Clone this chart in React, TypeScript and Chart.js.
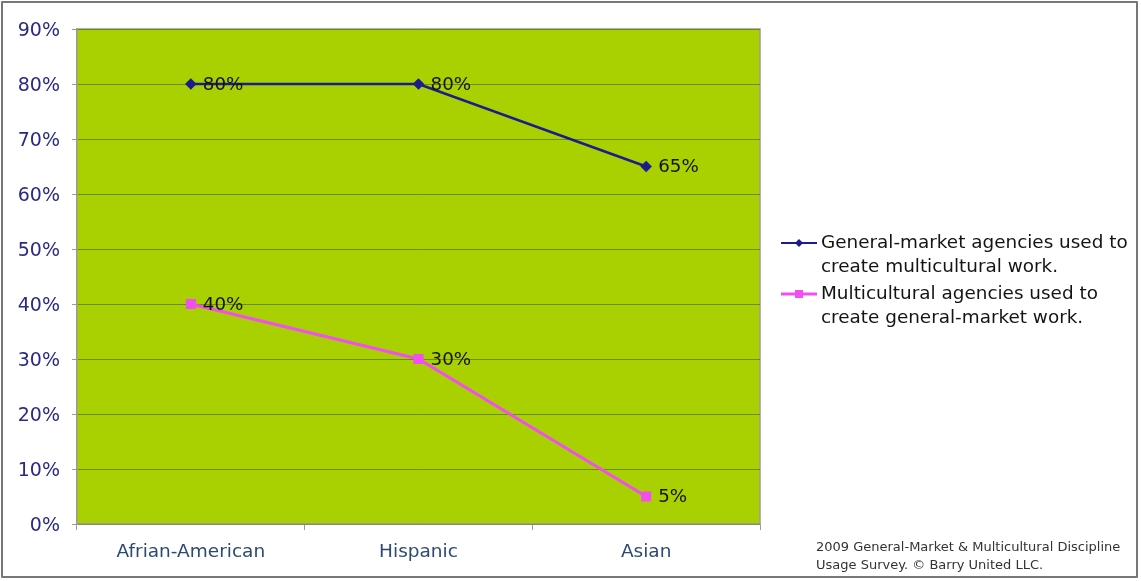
import React, { useEffect, useRef } from "react";
import { Chart, registerables } from "chart.js";

Chart.register(...registerables);

const categories = ["Afrian-American", "Hispanic", "Asian"];
const generalMarket = [80, 80, 65];
const multicultural = [40, 30, 5];
const seriesNames = [
  ["General-market agencies used to", "create multicultural work."],
  ["Multicultural agencies used to", "create general-market work."],
];
const footnote = [
  "2009 General-Market & Multicultural Discipline",
  "Usage Survey. \u00a9 Barry United LLC.",
];

const FONT = "'DejaVu Sans', Verdana, sans-serif";
const BLUE = "#1c1c8e";
const PINK = "#f24ef0";
const PLOT_BG = "#a9d000";

// Fills the plot area, draws value labels, legend and footnote
const decorations = {
  id: "decorations",
  beforeDraw(chart: any) {
    const { ctx, chartArea } = chart;
    ctx.save();
    ctx.fillStyle = PLOT_BG;
    ctx.fillRect(chartArea.left, chartArea.top, chartArea.right - chartArea.left, chartArea.bottom - chartArea.top);
    ctx.strokeStyle = "#9a9a9a";
    ctx.lineWidth = 1.5;
    ctx.beginPath();
    ctx.moveTo(chartArea.left, chartArea.top);
    ctx.lineTo(chartArea.right, chartArea.top);
    ctx.lineTo(chartArea.right, chartArea.bottom);
    ctx.stroke();
    ctx.restore();
  },
  afterDatasetsDraw(chart: any) {
    const { ctx } = chart;
    ctx.save();
    ctx.font = `18.3px ${FONT}`;
    ctx.fillStyle = "#141414";
    ctx.textBaseline = "middle";
    ctx.textAlign = "left";
    chart.data.datasets.forEach((ds: any, i: number) => {
      const meta = chart.getDatasetMeta(i);
      meta.data.forEach((pt: any, j: number) => {
        ctx.fillText(`${ds.data[j]}%`, pt.x + 12, pt.y + 1);
      });
    });

    // legend
    const entries = [
      { color: BLUE, width: 2, style: "diamond", y: 243 },
      { color: PINK, width: 3, style: "square", y: 294 },
    ];
    entries.forEach((e, i) => {
      ctx.strokeStyle = e.color;
      ctx.lineWidth = e.width;
      ctx.beginPath();
      ctx.moveTo(781, e.y);
      ctx.lineTo(817, e.y);
      ctx.stroke();
      ctx.fillStyle = e.color;
      if (e.style === "diamond") {
        ctx.beginPath();
        ctx.moveTo(799, e.y - 4);
        ctx.lineTo(803, e.y);
        ctx.lineTo(799, e.y + 4);
        ctx.lineTo(795, e.y);
        ctx.closePath();
        ctx.fill();
      } else {
        ctx.fillRect(795, e.y - 4, 8, 8);
      }
      ctx.fillStyle = "#141414";
      ctx.font = `18.4px ${FONT}`;
      seriesNames[i].forEach((line, k) => {
        ctx.fillText(line, 821, e.y + k * 24);
      });
    });

    // footnote
    ctx.fillStyle = "#333";
    ctx.font = `13px ${FONT}`;
    footnote.forEach((line, k) => {
      ctx.fillText(line, 816, 548 + k * 18);
    });
    ctx.restore();
  },
};

export default function App() {
  const ref = useRef<HTMLCanvasElement>(null);

  useEffect(() => {
    document.body.style.margin = "0";
    const chart = new Chart(ref.current!, {
      type: "line",
      data: {
        labels: categories,
        datasets: [
          {
            label: seriesNames[0].join(" "),
            data: generalMarket,
            borderColor: BLUE,
            backgroundColor: BLUE,
            borderWidth: 2.5,
            pointStyle: "rectRot",
            pointRadius: 4,
            tension: 0,
          },
          {
            label: seriesNames[1].join(" "),
            data: multicultural,
            borderColor: PINK,
            backgroundColor: PINK,
            borderWidth: 3,
            pointStyle: "rect",
            pointRadius: 5,
            tension: 0,
          },
        ],
      },
      options: {
        animation: false,
        responsive: false,
        layout: { padding: { left: 0, top: 29, right: 381, bottom: 0 } },
        plugins: { legend: { display: false }, tooltip: { enabled: false } },
        scales: {
          x: {
            offset: true,
            afterFit: (s: any) => {
              s.height = 57;
            },
            grid: {
              offset: true,
              drawOnChartArea: false,
              color: "#9a9a9a",
              tickLength: 6,
            },
            border: { color: "#9a9a9a", width: 1.5 },
            ticks: {
              color: "#2c4a72",
              font: { family: FONT, size: 18.5 },
              padding: 11,
            },
          },
          y: {
            min: 0,
            max: 90,
            afterFit: (s: any) => {
              s.width = 77;
            },
            grid: {
              color: "#6c8c0c",
              lineWidth: 1,
              tickLength: 5,
              tickColor: "#9a9a9a",
            },
            border: { color: "#9a9a9a", width: 1.5 },
            ticks: {
              stepSize: 10,
              color: "#2a2a85",
              font: { family: FONT, size: 19 },
              padding: 12,
              labelOffset: 2,
              callback: (v: any) => `${v}%`,
            },
          },
        },
      },
      plugins: [decorations],
    });
    return () => chart.destroy();
  }, []);

  return (
    <div style={{ position: "relative", width: 1141, height: 581 }}>
      <canvas ref={ref} width={1141} height={581} style={{ display: "block" }} />
      <div
        style={{
          position: "absolute",
          left: 1,
          top: 1,
          width: 1137,
          height: 577,
          border: "2px solid #777",
          boxSizing: "border-box",
          borderRadius: 1,
          pointerEvents: "none",
        }}
      />
    </div>
  );
}
